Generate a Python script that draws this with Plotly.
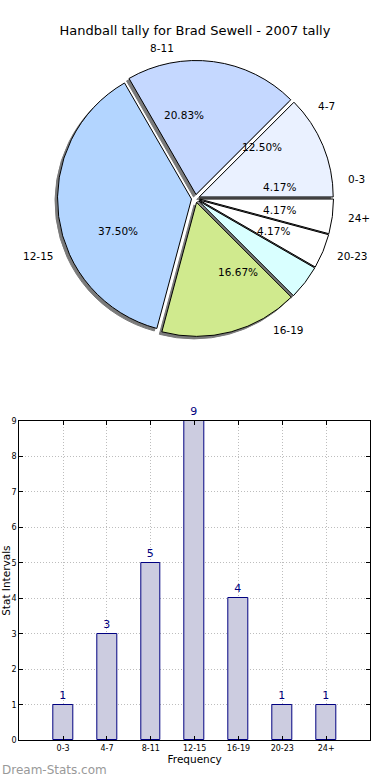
import math
import plotly.graph_objects as go

# ---------------- data ----------------
categories = ['0-3', '4-7', '8-11', '12-15', '16-19', '20-23', '24+']
counts = [1, 3, 5, 9, 4, 1, 1]
pie_colors = ['#FFFFFF', '#EAF1FF', '#C5D8FF', '#B3D5FF', '#D0EA8E', '#D9FFFF', '#FFFFFF']
chart_title = 'Handball tally for Brad Sewell - 2007 tally'
y_ticks = [0, 1, 2, 3, 4, 5, 6, 7, 8, 9]
x_title = 'Frequency'
y_title = 'Stat Intervals'
watermark = 'Dream-Stats.com'

# ---------------- layout constants ----------------
W, H = 390, 780
FONT = 'DejaVu Sans'
PIE_CX, PIE_CY, PIE_R = 195.5, 198.5, 134.0
PULL = 0.03
SHADOW_DX, SHADOW_DY = -2.5, 2.5
SHADOW_COLOR = '#7a7a7a'
BAR_FILL = '#CCCCE0'
BAR_EDGE = '#000080'
BAR_WIDTH = 0.45
AX_L, AX_R, AX_T, AX_B = 19.3, 370.0, 421.0, 740.3
GRID_COLOR = '#bdbdbd'
GRID_DASH = '1px,2px'


def pie_domain(cx, cy):
    half = PIE_R * (1 + PULL)
    return dict(x=[(cx - half) / W, (cx + half) / W],
                y=[1 - (cy + half) / H, 1 - (cy - half) / H])


fig = go.Figure()

common = dict(values=counts, labels=categories, sort=False,
              direction='counterclockwise', rotation=90,
              pull=[PULL] * len(counts), textinfo='none',
              hoverinfo='skip', showlegend=False)

# shadow
fig.add_trace(go.Pie(**common,
                     marker=dict(colors=[SHADOW_COLOR] * len(counts),
                                 line=dict(color=SHADOW_COLOR, width=1)),
                     domain=pie_domain(PIE_CX + SHADOW_DX, PIE_CY + SHADOW_DY)))
# main pie
fig.add_trace(go.Pie(**common,
                     marker=dict(colors=pie_colors, line=dict(color='black', width=1)),
                     domain=pie_domain(PIE_CX, PIE_CY)))

# labels and percentages, positioned from the data (matplotlib style)
total = sum(counts)
cum = 0
annotations = []
for lab, v in zip(categories, counts):
    mid = math.radians(360.0 * (cum + v / 2.0) / total)
    cum += v
    c, s = math.cos(mid), math.sin(mid)
    off = PULL * PIE_R
    # outer label
    d = off + 1.1 * PIE_R
    lx, ly = PIE_CX + d * c, PIE_CY - d * s
    annotations.append(dict(x=lx / W, y=1 - ly / H, xref='paper', yref='paper',
                            text=lab, showarrow=False,
                            xanchor='left' if c > 0 else 'right', yanchor='middle',
                            font=dict(family=FONT, size=10.5, color='black')))
    # percent
    d = off + 0.6 * PIE_R
    px, py = PIE_CX + d * c, PIE_CY - d * s
    annotations.append(dict(x=px / W, y=1 - py / H, xref='paper', yref='paper',
                            text=f'{100.0 * v / total:.2f}%', showarrow=False,
                            xanchor='center', yanchor='middle',
                            font=dict(family=FONT, size=10.5, color='black')))

# bar chart
fig.add_trace(go.Bar(x=categories, y=counts, width=BAR_WIDTH,
                     marker=dict(color=BAR_FILL, line=dict(color=BAR_EDGE, width=1)),
                     text=[str(v) for v in counts], textposition='outside',
                     textfont=dict(family=FONT, size=11, color=BAR_EDGE),
                     outsidetextfont=dict(family=FONT, size=11, color=BAR_EDGE),
                     cliponaxis=False, showlegend=False, hoverinfo='skip'))

annotations.append(dict(x=0 / W, y=1 - 770 / H, xref='paper', yref='paper',
                        text=watermark, showarrow=False, xanchor='left', yanchor='middle',
                        font=dict(family=FONT, size=12, color='#999999')))

fig.update_layout(
    width=W, height=H,
    margin=dict(l=0, r=0, t=0, b=0),
    paper_bgcolor='white', plot_bgcolor='white',
    font=dict(family=FONT, color='black'),
    title=dict(text=chart_title, x=0.5, xanchor='center',
               y=1 - 30 / H, yanchor='middle', yref='container',
               font=dict(family=FONT, size=13, color='black')),
    xaxis=dict(domain=[AX_L / W, AX_R / W], range=[-1, 7],
               showline=True, linecolor='black', linewidth=1, mirror='allticks',
               ticks='inside', ticklen=4, tickcolor='black',
               showgrid=True, gridcolor=GRID_COLOR, griddash=GRID_DASH, gridwidth=1,
               tickfont=dict(family=FONT, size=8, color='black'),
               title=dict(text=x_title, standoff=2,
                          font=dict(family=FONT, size=10.5, color='black')),
               automargin=False, fixedrange=True),
    yaxis=dict(domain=[1 - AX_B / H, 1 - AX_T / H], range=[0, 9],
               tickvals=y_ticks,
               showline=True, linecolor='black', linewidth=1, mirror='allticks',
               ticks='inside', ticklen=4, tickcolor='black',
               showgrid=True, gridcolor=GRID_COLOR, griddash=GRID_DASH, gridwidth=1,
               zeroline=False,
               tickfont=dict(family=FONT, size=8, color='black'),
               title=dict(text=y_title, standoff=2,
                          font=dict(family=FONT, size=10.5, color='black')),
               automargin=False, fixedrange=True),
    annotations=annotations,
    bargap=0,
)

fig.write_html('out.html', config={'displayModeBar': False},
               post_script="document.body.style.margin='0';document.body.style.padding='0';document.body.style.overflow='hidden';")
